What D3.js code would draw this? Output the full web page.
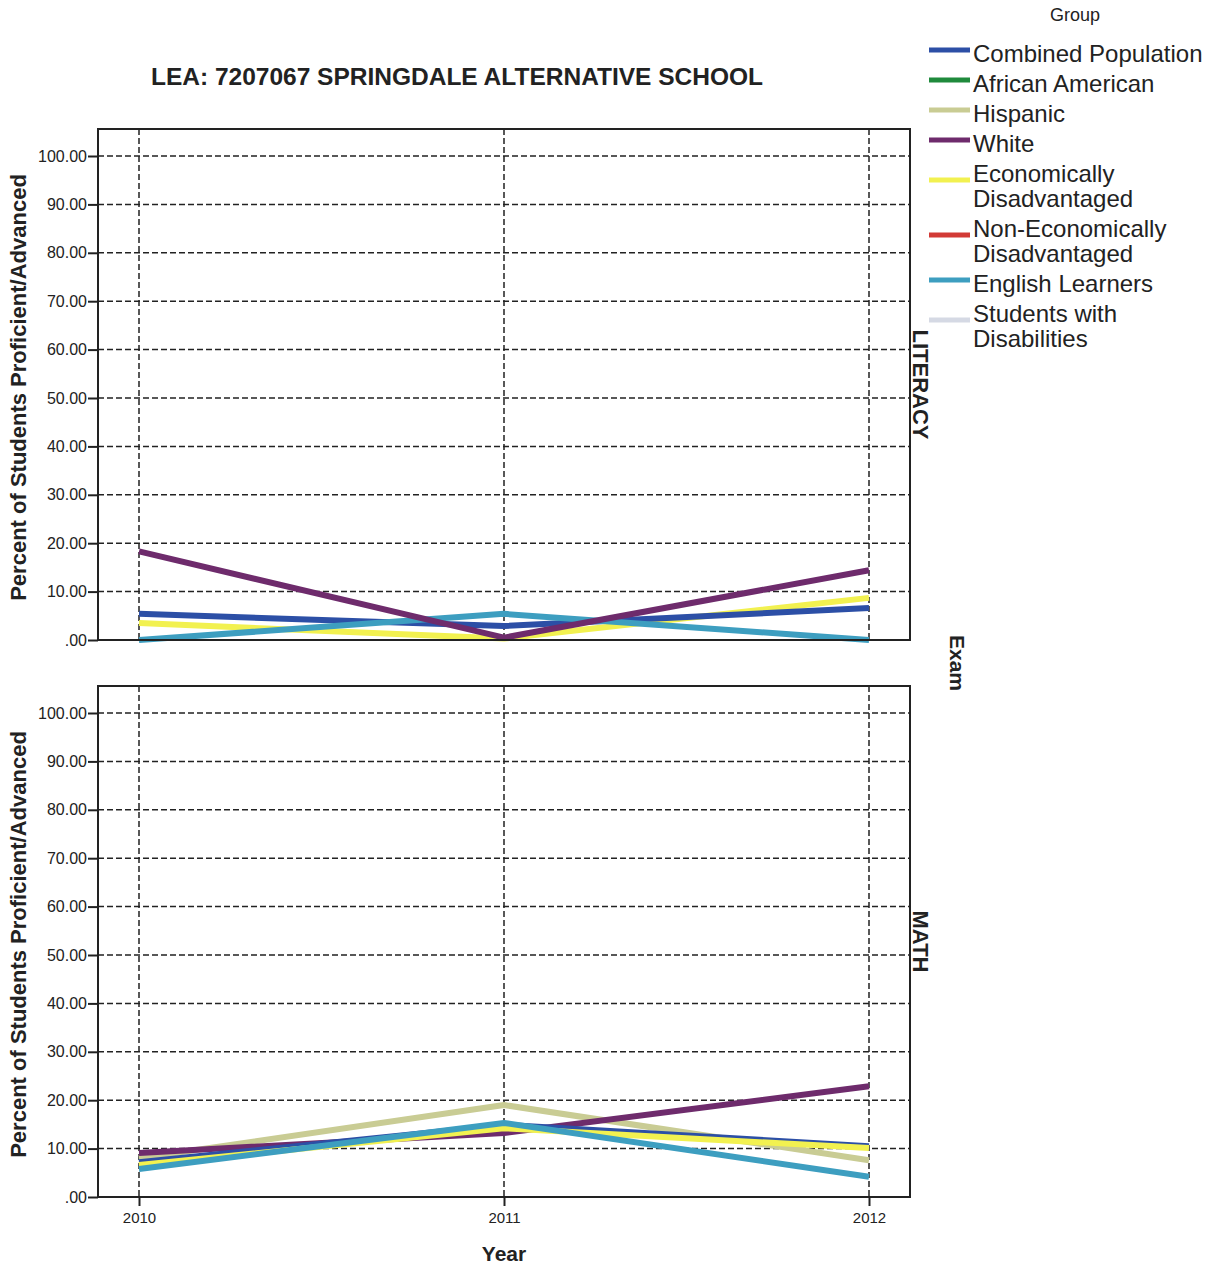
<!DOCTYPE html>
<html><head><meta charset="utf-8">
<script src="https://cdn.jsdelivr.net/npm/d3@7"></script>
<style>body{margin:0;background:#fff}svg{display:block}</style>
</head><body>
<script>
const years = [2010, 2011, 2012];
const yTicks = [0,10,20,30,40,50,60,70,80,90,100];
const groups = ["Combined Population","African American","Hispanic","White","Economically Disadvantaged","Non-Economically Disadvantaged","English Learners","Students with Disabilities"];
const groupColors = ["#2c4fa6","#1f8a3c","#c9cc94","#6e2b6c","#f2f150","#d23a36","#3d9ec0","#d5d9e4"];
const legendLines = [["Combined Population"],["African American"],["Hispanic"],["White"],["Economically","Disadvantaged"],["Non-Economically","Disadvantaged"],["English Learners"],["Students with","Disabilities"]];
const exams = ["LITERACY","MATH"];
// values per exam, per group [2010, 2011, 2012]
const literacyValues = {
  "Combined Population": [5.4, 2.9, 6.6],
  "Economically Disadvantaged": [3.5, 0.3, 8.7],
  "English Learners": [0.0, 5.4, 0.0],
  "White": [18.3, 0.5, 14.4]
};
const mathValues = {
  "Hispanic": [8.0, 19.0, 7.6],
  "Combined Population": [7.2, 14.9, 10.5],
  "Economically Disadvantaged": [6.6, 14.2, 10.1],
  "White": [9.1, 13.2, 22.9],
  "English Learners": [5.8, 15.3, 4.2]
};
const drawOrder = ["Hispanic","White","Combined Population","Economically Disadvantaged","English Learners"];
const litOrder = ["Economically Disadvantaged","Combined Population","English Learners","White"];

const W=1219,H=1268;
const svg=d3.select("body").append("svg").attr("width",W).attr("height",H);
const font="Liberation Sans, Arial, Helvetica, sans-serif";
const colorOf = d3.scaleOrdinal().domain(groups).range(groupColors);

const x = d3.scalePoint().domain(years).range([139,869]);
const panels = [
  {exam:"LITERACY", top:129, bottom:640, values:literacyValues, order:litOrder},
  {exam:"MATH", top:686, bottom:1197, values:mathValues, order:drawOrder}
];
const left=98,right=910;

svg.append("text").attr("x",457).attr("y",85).attr("text-anchor","middle")
  .attr("font-family",font).attr("font-weight","bold").attr("font-size",24.5).attr("fill","#222")
  .text("LEA: 7207067 SPRINGDALE ALTERNATIVE SCHOOL");

panels.forEach((p,i)=>{
  const y = d3.scaleLinear().domain([0,100]).range([p.bottom,p.bottom-484]);
  const g = svg.append("g");
  // grid
  g.selectAll(".hg").data(yTicks.filter(d=>d>0)).join("line")
    .attr("x1",left).attr("x2",right).attr("y1",d=>y(d)).attr("y2",d=>y(d))
    .attr("stroke","#222").attr("stroke-width",1.5).attr("stroke-dasharray","6,3");
  g.selectAll(".vg").data(years).join("line")
    .attr("x1",d=>x(d)).attr("x2",d=>x(d)).attr("y1",p.top).attr("y2",p.bottom)
    .attr("stroke","#222").attr("stroke-width",1.5).attr("stroke-dasharray","6,3");
  // y axis
  const ya = g.append("g").attr("transform",`translate(${left},0)`)
    .call(d3.axisLeft(y).tickValues(yTicks).tickSize(10).tickPadding(1)
      .tickFormat(d=>d===0?".00":d3.format(".2f")(d)));
  ya.select(".domain").remove();
  ya.selectAll("line").attr("stroke","#222").attr("stroke-width",2);
  ya.selectAll("text").attr("font-family",font).attr("font-size",16).attr("fill","#222");
  if(i===1){
    const xa = g.append("g").attr("transform",`translate(0,${p.bottom})`)
      .call(d3.axisBottom(x).tickSize(9).tickPadding(6).tickFormat(d3.format("d")));
    xa.select(".domain").remove();
    xa.selectAll("line").attr("stroke","#222").attr("stroke-width",2);
    xa.selectAll("text").attr("font-family",font).attr("font-size",15).attr("fill","#222");
  }
  // lines
  const line = d3.line().x((d,j)=>x(years[j])).y(d=>y(d));
  p.order.forEach(gname=>{
    const vals = p.values[gname];
    g.append("path").attr("d",line(vals)).attr("fill","none")
      .attr("stroke",colorOf(gname)).attr("stroke-width",6).attr("stroke-linejoin","round");
  });
  // frame
  g.append("rect").attr("x",left).attr("y",p.top).attr("width",right-left).attr("height",p.bottom-p.top)
    .attr("fill","none").attr("stroke","#222").attr("stroke-width",2);
  // facet label
  const cy=(p.top+p.bottom)/2;
  g.append("text").attr("transform",`translate(913,${cy}) rotate(90)`).attr("text-anchor","middle")
    .attr("font-family",font).attr("font-weight","bold").attr("font-size",22).attr("fill","#222").text(p.exam);
  // y title
  g.append("text").attr("transform",`translate(26,${cy+3}) rotate(-90)`).attr("text-anchor","middle")
    .attr("font-family",font).attr("font-weight","bold").attr("font-size",22).attr("fill","#222")
    .text("Percent of Students Proficient/Advanced");
});

svg.append("text").attr("transform",`translate(950,663) rotate(90)`).attr("text-anchor","middle")
  .attr("font-family",font).attr("font-weight","bold").attr("font-size",21).attr("fill","#222").text("Exam");
svg.append("text").attr("x",504).attr("y",1261).attr("text-anchor","middle")
  .attr("font-family",font).attr("font-weight","bold").attr("font-size",21).attr("fill","#222").text("Year");

// legend
svg.append("text").attr("x",1075).attr("y",21).attr("text-anchor","middle")
  .attr("font-family",font).attr("font-size",18).attr("fill","#222").text("Group");
let ly=54;
legendLines.forEach((lines,k)=>{
  const lg=svg.append("g");
  const swY = lines.length===1? ly-4 : ly+6;
  lg.append("line").attr("x1",929).attr("x2",970).attr("y1",swY).attr("y2",swY)
    .attr("stroke",groupColors[k]).attr("stroke-width",5);
  lines.forEach((t,m)=>{
    lg.append("text").attr("x",973).attr("y",ly+8+m*25).attr("font-family",font).attr("font-size",24).attr("fill","#222").text(t);
  });
  ly += lines.length===1?30:55;
});
</script>
</body></html>
